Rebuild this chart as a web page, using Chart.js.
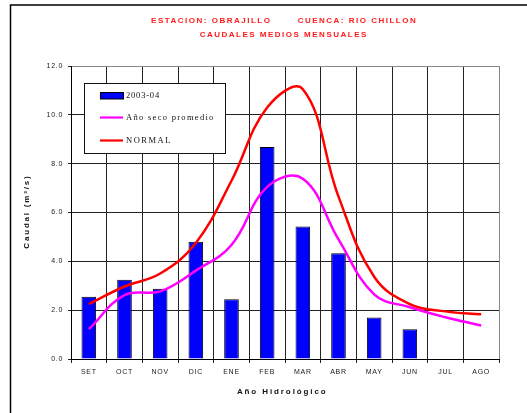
<!DOCTYPE html>
<html>
<head>
<meta charset="utf-8">
<script src="https://cdn.jsdelivr.net/npm/chart.js@4.4.1/dist/chart.umd.min.js"></script>
<style>
  html, body { margin: 0; padding: 0; background: #fff; }
  #wrap { width: 527px; height: 413px; }
</style>
</head>
<body>
<div id="wrap"><canvas id="chart" width="527" height="413"></canvas></div>
<script>
// values
const months = ['SET', 'OCT', 'NOV', 'DIC', 'ENE', 'FEB', 'MAR', 'ABR', 'MAY', 'JUN', 'JUL', 'AGO'];
const caudal2003 = [2.55, 3.25, 2.88, 4.8, 2.45, 8.68, 5.43, 4.33, 1.7, 1.22, null, null];
const anoSeco = [1.22, 2.62, 2.77, 3.62, 4.67, 7.05, 7.38, 4.9, 2.65, 2.12, 1.71, 1.37];
const normal = [2.25, 2.97, 3.5, 4.75, 7.3, 10.3, 11.05, 6.65, 3.37, 2.25, 1.95, 1.83];
const seriesNames = ['2003-04', 'Año seco promedio', 'NORMAL'];
const yMax = 12;
const yStep = 2;
const titleParts = ['ESTACION: OBRAJILLO', 'CUENCA: RIO CHILLON'];
const subTitle = 'CAUDALES MEDIOS MENSUALES';
const yTitle = 'Caudal (m³/s)';
const xTitle = 'Año Hidrológico';

function spaced(ctx, text, x, y, spacing, align) {
  ctx.letterSpacing = spacing + 'px';
  const w = ctx.measureText(text).width - spacing;
  ctx.textAlign = 'left';
  ctx.fillText(text, align === 'center' ? x - w / 2 : x, y);
}

const decor = {
  id: 'decor',
  beforeDraw(chart) {
    const ctx = chart.ctx;
    ctx.save();
    ctx.fillStyle = '#fff';
    ctx.fillRect(0, 0, chart.width, chart.height);
    // outer frame (left + top only, the rest is cut off)
    ctx.strokeStyle = '#000';
    ctx.lineWidth = 1.5;
    ctx.beginPath();
    ctx.moveTo(10.5, chart.height);
    ctx.lineTo(10.5, 5);
    ctx.lineTo(chart.width, 5);
    ctx.stroke();
    ctx.restore();
    // tick labels are letter-spaced
    ctx.letterSpacing = '0.7px';
  },
  afterDatasetsDraw(chart) {
    const ctx = chart.ctx;
    const ds = chart.data.datasets;
    ctx.save();
    // legend box
    ctx.fillStyle = '#fff';
    ctx.fillRect(84.5, 83.5, 141, 70);
    ctx.strokeStyle = '#111';
    ctx.lineWidth = 1;
    ctx.strokeRect(84.5, 83.5, 141, 70);

    ctx.fillStyle = ds[0].backgroundColor;
    ctx.fillRect(100.5, 92.5, 23, 6.5);
    ctx.strokeStyle = '#000';
    ctx.strokeRect(100.5, 92.5, 23, 6.5);

    ctx.lineWidth = 2.2;
    ctx.strokeStyle = ds[1].borderColor;
    ctx.beginPath(); ctx.moveTo(100, 117.5); ctx.lineTo(123, 117.5); ctx.stroke();
    ctx.strokeStyle = ds[2].borderColor;
    ctx.beginPath(); ctx.moveTo(100, 140.5); ctx.lineTo(123, 140.5); ctx.stroke();

    ctx.fillStyle = '#111';
    ctx.font = '8.5px "Liberation Serif"';
    ctx.textBaseline = 'middle';
    spaced(ctx, ds[0].label, 126, 96, 0.8);
    spaced(ctx, ds[1].label, 126, 117.5, 1.3);
    spaced(ctx, ds[2].label, 126, 140.5, 1.5);
    ctx.restore();
  },
  afterDraw(chart) {
    const ctx = chart.ctx;
    ctx.save();
    ctx.textBaseline = 'middle';
    ctx.fillStyle = '#ff1a1a';
    ctx.font = 'bold 8px "Liberation Sans"';
    spaced(ctx, titleParts[0], 210.5, 20.5, 1.5, 'center');
    spaced(ctx, titleParts[1], 356.7, 20.5, 1.5, 'center');
    spaced(ctx, subTitle, 283, 34.5, 1.5, 'center');

    ctx.fillStyle = '#111';
    ctx.font = 'bold 8px "Liberation Sans"';
    spaced(ctx, xTitle, 281.3, 391.5, 1.9, 'center');
    ctx.translate(27, 212.5);
    ctx.rotate(-Math.PI / 2);
    spaced(ctx, yTitle, 0, 0, 1.8, 'center');
    ctx.restore();
    ctx.letterSpacing = '0px';
  }
};

new Chart(document.getElementById('chart'), {
  type: 'bar',
  data: {
    labels: months,
    datasets: [
      {
        type: 'bar',
        label: seriesNames[0],
        data: caudal2003,
        backgroundColor: '#0000ff',
        borderColor: '#000',
        borderWidth: 1,
        barPercentage: 0.41,
        categoryPercentage: 1,
        order: 3,
      },
      {
        type: 'line',
        label: seriesNames[1],
        data: anoSeco,
        borderColor: '#ff00ff',
        backgroundColor: '#ff00ff',
        borderWidth: 2.5,
        pointRadius: 0,
        tension: 0.4,
        order: 2,
      },
      {
        type: 'line',
        label: seriesNames[2],
        data: normal,
        borderColor: '#ff0000',
        backgroundColor: '#ff0000',
        borderWidth: 2.5,
        pointRadius: 0,
        tension: 0.4,
        order: 1,
      },
    ],
  },
  options: {
    responsive: false,
    animation: false,
    devicePixelRatio: 1,
    layout: {padding: {top: 66, right: 28, left: 0, bottom: 0}},
    plugins: {
      legend: {display: false},
      title: {display: false},
      tooltip: {enabled: false},
    },
    scales: {
      x: {
        afterFit: (s) => { s.height = 54; },
        grid: {
          offset: true,
          color: (c) => (c.type === 'tick' ? '#222' : '#888'),
          tickColor: '#222',
          tickLength: 4,
        },
        border: {color: '#000', width: 1},
        ticks: {
          color: '#222',
          font: {family: 'Liberation Sans', size: 7},
          padding: 5,
        },
      },
      y: {
        min: 0,
        max: yMax,
        afterFit: (s) => { s.width = 71; },
        grid: {
          color: (c) => (c.tick && c.tick.value === yMax ? '#888' : '#222'),
          tickColor: '#222',
          tickLength: 3,
        },
        border: {color: '#000', width: 1},
        ticks: {
          stepSize: yStep,
          color: '#222',
          font: {family: 'Liberation Sans', size: 7},
          padding: 5,
          callback: (v) => v.toFixed(1),
        },
      },
    },
  },
  plugins: [decor],
});
</script>
</body>
</html>
